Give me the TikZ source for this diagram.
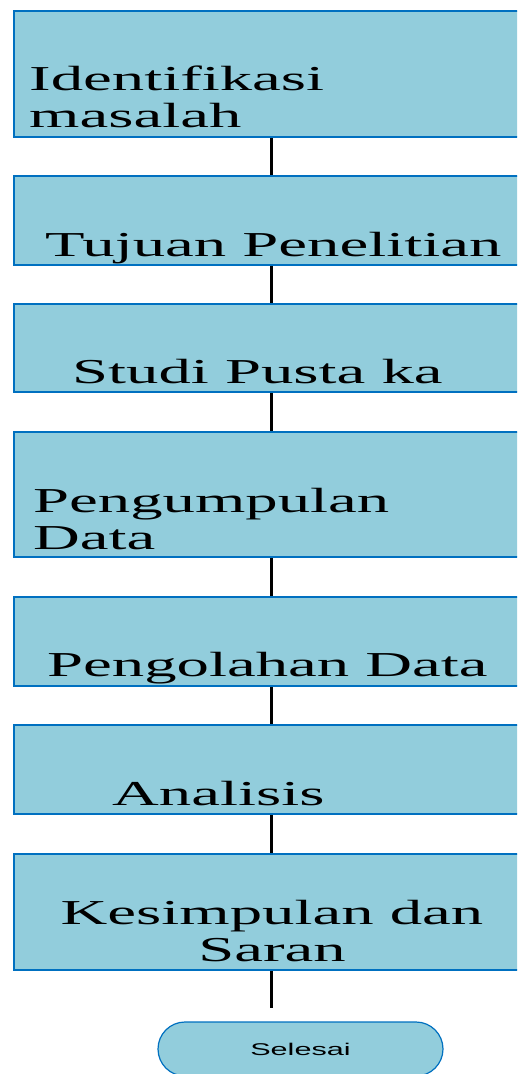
\documentclass[tikz,border=0pt]{standalone}
\usepackage{fontspec}
\usetikzlibrary{shapes.misc}
\newfontfamily\boxfont[FakeStretch=1.85]{Liberation Serif}
\newfontfamily\endfont[FakeStretch=1.8]{Liberation Sans}
\definecolor{boxfill}{HTML}{92CDDC}
\definecolor{boxline}{HTML}{0070C0}
\tikzset{
  stage/.style={draw=boxline, fill=boxfill, line width=2pt, minimum width=514pt, inner sep=0pt},
  caption/.style={font=\boxfont\fontsize{35}{37}\selectfont, inner sep=0pt},
  link/.style={line width=3pt},
}
\begin{document}
\begin{tikzpicture}[x=1pt,y=-1pt]
  \useasboundingbox (0,0) rectangle (517,1074);
  \clip (0,0) rectangle (517,1074);

  % Draw the boxes
  \node[stage, minimum height=126pt] (identifikasi) at (271,74) {};
  \node[stage, minimum height=89pt] (tujuan) at (271,220.5) {};
  \node[stage, minimum height=88pt] (studi) at (271,348) {};
  \node[stage, minimum height=125pt] (pengumpulan) at (271,494.5) {};
  \node[stage, minimum height=89pt] (pengolahan) at (271,641.5) {};
  \node[stage, minimum height=89pt] (analisis) at (271,769.5) {};
  \node[stage, minimum height=116pt] (kesimpulan) at (271,912) {};

  % Texts sit low in the boxes (base = last line)
  \node[caption, anchor=base west, align=left] (identifikasi text) at (29,127) {Identifikasi\\masalah};
  \node[caption, anchor=base west] (tujuan text) at (45,256) {Tujuan Penelitian};
  \node[caption, anchor=base west] (studi text) at (72,383) {Studi Pusta ka};
  \node[caption, anchor=base west, align=left] (pengumpulan text) at (33,549) {Pengumpulan\\Data};
  \node[caption, anchor=base west] (pengolahan text) at (47,676) {Pengolahan Data};
  \node[caption, anchor=base west] (analisis text) at (112,805) {Analisis};
  \node[caption, anchor=base, align=center] (kesimpulan text) at (272,961) {Kesimpulan dan\\Saran};

  % End of the flow
  \node[draw=boxline, fill=boxfill, line width=1.2pt, rounded rectangle,
        minimum width=285pt, minimum height=54pt, inner sep=0pt,
        font=\endfont\fontsize{17}{17}\selectfont] (selesai) at (300.5,1049) {Selesai};
  \coordinate (ujung) at (271,1008);

  % Draw the links
  \foreach \a/\b in {identifikasi/tujuan, tujuan/studi, studi/pengumpulan,
                     pengumpulan/pengolahan, pengolahan/analisis, analisis/kesimpulan} {
    \draw[link] (\a.south) -- (\b.north);
  }
  \draw[link] (kesimpulan.south) -- (ujung);
\end{tikzpicture}
\end{document}
